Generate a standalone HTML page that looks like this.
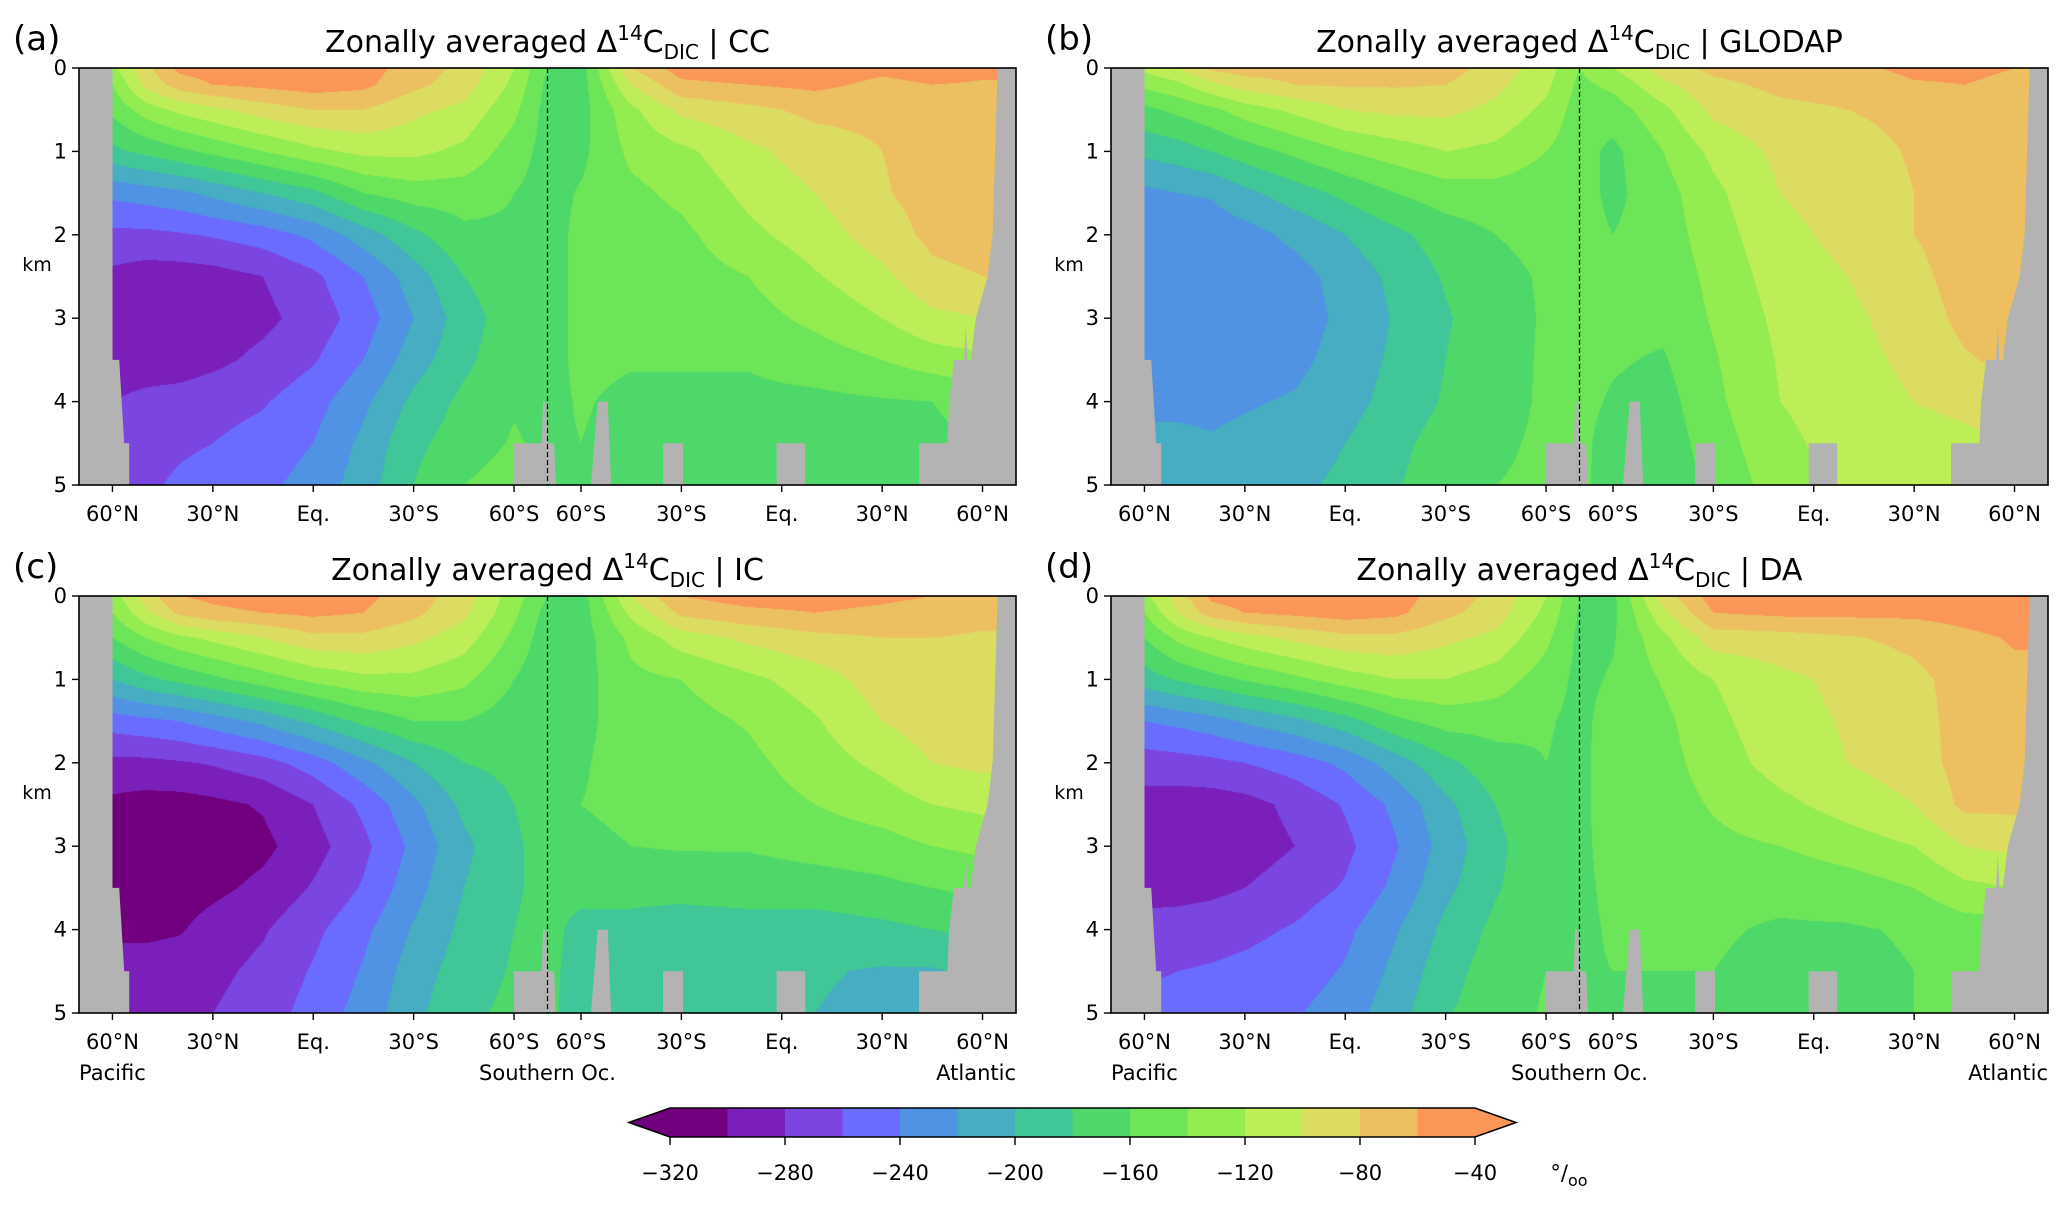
<!DOCTYPE html>
<html><head><meta charset="utf-8">
<style>
html,body{margin:0;padding:0;background:#fff;}
#wrap{position:relative;width:2067px;height:1208px;overflow:hidden;background:#fff;font-family:"DejaVu Sans","Liberation Sans",sans-serif;}
canvas{position:absolute;}
svg{position:absolute;left:0;top:0;}
</style></head>
<body>
<div id="wrap">
<canvas id="cv-a"></canvas>
<canvas id="cv-b"></canvas>
<canvas id="cv-c"></canvas>
<canvas id="cv-d"></canvas>
<svg id="ov" width="2067" height="1208" xmlns="http://www.w3.org/2000/svg"></svg>
</div>
<script>
// ---- data ----
const binEdges=[-320,-300,-280,-260,-240,-220,-200,-180,-160,-140,-120,-100,-80,-60,-40];
const binColors=["#71007f","#7b1fbb","#7a45e0","#6a6cff","#5093e4","#46adc2","#41c697","#4fd86a","#6ce558","#93ec50","#bdee58","#dcdc62","#ecc060","#f99658"];
const lowColor="#71007f", highColor="#f99658";
const cbTickLabels=["\u2212320","\u2212280","\u2212240","\u2212200","\u2212160","\u2212120","\u221280","\u221240"];
const cbTickValues=[-320,-280,-240,-200,-160,-120,-80,-40];
const depthRows=[0,0.2,0.5,1,1.5,2,2.5,3,3.5,4,4.5,5];
const sectionCols=[10,20,30,40,55,70,85,100,115,130,140,150,165,180,200,220,240,255,270];
const xTickPos=[10,40,70,100,130,150,180,210,240,270];
const xTickLabels=["60°N","30°N","Eq.","30°S","60°S","60°S","30°S","Eq.","30°N","60°N"];
const yTickVals=[0,1,2,3,4,5];
const fieldCC=[
[-125,-140,-155,-185,-235,-265,-285,-290,-290,-280,-270,-265],
[-85,-95,-130,-175,-230,-265,-290,-292,-290,-275,-265,-262],
[-55,-70,-115,-165,-225,-262,-290,-293,-290,-272,-262,-258],
[-50,-60,-105,-155,-215,-258,-288,-292,-285,-268,-260,-255],
[-45,-55,-90,-140,-200,-250,-280,-285,-275,-262,-252,-245],
[-45,-50,-80,-125,-185,-235,-265,-272,-262,-248,-240,-232],
[-50,-55,-80,-115,-160,-210,-240,-250,-240,-225,-215,-210],
[-70,-75,-95,-115,-150,-185,-210,-220,-210,-195,-185,-180],
[-85,-90,-105,-125,-150,-165,-180,-190,-185,-175,-170,-160],
[-120,-125,-135,-150,-160,-163,-165,-168,-165,-162,-158,-150],
[-160,-165,-168,-168,-168,-168,-168,-168,-168,-166,-164,-160],
[-170,-170,-168,-165,-158,-155,-155,-155,-155,-158,-160,-162],
[-80,-100,-125,-135,-145,-150,-152,-155,-158,-165,-168,-168],
[-50,-65,-95,-125,-135,-145,-150,-153,-158,-165,-168,-168],
[-45,-60,-85,-105,-115,-125,-140,-148,-158,-165,-168,-168],
[-45,-55,-75,-90,-100,-110,-122,-135,-150,-165,-168,-168],
[-55,-65,-75,-80,-82,-90,-105,-120,-140,-162,-165,-165],
[-50,-60,-70,-72,-72,-75,-85,-105,-130,-160,-165,-165],
[-55,-62,-70,-70,-72,-72,-80,-100,-125,-150,-160,-160]];
const fieldGLODAP=[
[-115,-135,-165,-195,-225,-225,-228,-230,-228,-225,-215,-210],
[-100,-125,-155,-190,-220,-232,-230,-228,-232,-225,-215,-212],
[-75,-105,-145,-180,-218,-232,-235,-235,-232,-225,-218,-212],
[-70,-90,-130,-170,-205,-228,-232,-235,-230,-222,-215,-210],
[-70,-80,-115,-155,-190,-215,-228,-230,-225,-218,-212,-205],
[-70,-78,-100,-140,-175,-200,-212,-215,-212,-208,-200,-195],
[-70,-78,-95,-130,-160,-185,-195,-198,-196,-192,-185,-182],
[-70,-80,-95,-120,-150,-170,-178,-182,-180,-178,-172,-168],
[-90,-95,-105,-125,-148,-160,-165,-168,-166,-165,-162,-160],
[-110,-115,-125,-140,-152,-155,-158,-158,-158,-158,-158,-158],
[-140,-145,-150,-152,-152,-152,-152,-152,-155,-155,-155,-155],
[-120,-135,-150,-165,-165,-160,-155,-155,-158,-162,-168,-170],
[-90,-105,-125,-140,-148,-150,-152,-155,-162,-168,-172,-175],
[-75,-85,-95,-115,-125,-130,-135,-138,-142,-145,-150,-155],
[-70,-75,-85,-95,-100,-105,-110,-115,-118,-120,-125,-130],
[-65,-72,-80,-88,-92,-95,-100,-105,-108,-110,-112,-115],
[-55,-62,-75,-78,-80,-80,-85,-90,-95,-100,-108,-112],
[-55,-60,-70,-72,-72,-72,-72,-75,-82,-95,-105,-110],
[-60,-65,-70,-70,-70,-70,-70,-72,-75,-85,-100,-105]];
const fieldIC=[
[-130,-140,-160,-200,-250,-285,-305,-312,-312,-305,-290,-285],
[-90,-105,-140,-185,-245,-285,-308,-315,-312,-305,-290,-285],
[-60,-75,-125,-175,-240,-282,-308,-315,-310,-302,-288,-282],
[-55,-65,-115,-165,-230,-278,-305,-312,-305,-292,-285,-280],
[-50,-60,-100,-150,-215,-268,-298,-305,-295,-282,-275,-270],
[-50,-55,-85,-135,-195,-250,-280,-288,-278,-265,-258,-252],
[-55,-60,-85,-125,-175,-225,-255,-265,-258,-245,-238,-232],
[-70,-75,-95,-125,-160,-200,-225,-235,-228,-218,-210,-205],
[-90,-95,-110,-135,-160,-180,-195,-205,-200,-195,-190,-185],
[-130,-135,-145,-160,-170,-175,-180,-182,-182,-180,-178,-175],
[-160,-168,-172,-175,-175,-175,-175,-175,-175,-175,-175,-175],
[-170,-170,-170,-168,-165,-162,-160,-165,-175,-185,-188,-190],
[-100,-115,-135,-145,-150,-152,-155,-160,-175,-185,-188,-190],
[-60,-75,-110,-140,-148,-150,-152,-158,-175,-188,-192,-192],
[-50,-65,-95,-125,-138,-145,-150,-158,-172,-188,-195,-195],
[-50,-60,-85,-110,-122,-130,-140,-152,-170,-190,-198,-200],
[-55,-65,-80,-90,-100,-115,-130,-148,-165,-185,-202,-205],
[-60,-70,-80,-85,-90,-100,-120,-140,-160,-180,-202,-205],
[-65,-75,-82,-85,-88,-95,-115,-135,-155,-175,-195,-200]];
const fieldDA=[
[-125,-140,-160,-190,-240,-270,-288,-292,-288,-272,-262,-255],
[-90,-100,-135,-178,-235,-268,-290,-293,-288,-270,-260,-255],
[-55,-70,-120,-168,-228,-265,-290,-293,-285,-268,-258,-252],
[-50,-60,-108,-158,-218,-260,-287,-290,-280,-265,-255,-250],
[-45,-55,-95,-145,-205,-250,-275,-280,-270,-258,-250,-242],
[-45,-50,-85,-130,-188,-235,-258,-265,-258,-245,-238,-230],
[-50,-55,-85,-120,-165,-210,-235,-242,-235,-222,-215,-208],
[-70,-75,-95,-120,-152,-185,-205,-212,-205,-195,-188,-182],
[-85,-90,-105,-130,-152,-168,-180,-185,-182,-175,-170,-168],
[-120,-125,-135,-150,-158,-160,-162,-165,-165,-162,-160,-158],
[-160,-162,-165,-165,-165,-165,-165,-165,-165,-164,-162,-160],
[-165,-165,-162,-158,-152,-150,-150,-152,-155,-158,-160,-162],
[-90,-105,-125,-138,-145,-148,-150,-152,-158,-158,-160,-162],
[-50,-60,-90,-120,-125,-130,-138,-145,-155,-158,-160,-162],
[-45,-55,-88,-105,-108,-112,-125,-140,-155,-162,-165,-165],
[-45,-55,-82,-95,-98,-100,-112,-130,-150,-162,-165,-165],
[-45,-55,-75,-85,-88,-90,-100,-120,-140,-158,-160,-160],
[-45,-52,-65,-72,-72,-72,-75,-100,-125,-150,-158,-158],
[-42,-48,-58,-65,-70,-70,-75,-95,-120,-150,-155,-155]];
const bathyS=[0,10,10,12,13.5,15,15,130,130,138.3,138.7,139.6,140,142,142.5,153,155,158,159,174.5,174.5,180.5,180.5,208.5,208.5,217,217,251,251,259.5,260,261.5,264.5,265,265.5,266.5,268,271.5,273,274.5,280,280,0];
const bathyD=[0,0,3.5,3.5,4.5,4.5,5,5,4.5,4.5,4.0,4.0,4.5,4.5,5,5,4,4,5,5,4.5,4.5,5,5,4.5,4.5,5,5,4.5,4.5,4.0,3.5,3.5,3.1,3.5,3.5,3.0,2.5,2.0,0,0,5,5];

const panels=[
 {id:"a",name:"CC",field:fieldCC,left:79,top:68,region:false},
 {id:"b",name:"GLODAP",field:fieldGLODAP,left:1111,top:68,region:false},
 {id:"c",name:"IC",field:fieldIC,left:79,top:596,region:true},
 {id:"d",name:"DA",field:fieldDA,left:1111,top:596,region:true}];
const W=937,H=417,SMAX=280,DMAX=5;

function colorFor(v){
  if(v<binEdges[0]) return lowColor;
  if(v>=binEdges[binEdges.length-1]) return highColor;
  let k=Math.floor((v-binEdges[0])/20);
  return binColors[Math.max(0,Math.min(13,k))];
}
function hex(c){return [parseInt(c.substr(1,2),16),parseInt(c.substr(3,2),16),parseInt(c.substr(5,2),16)];}
function findIdx(arr,v){
  if(v<=arr[0]) return [0,0];
  if(v>=arr[arr.length-1]) return [arr.length-2,1];
  for(let i=0;i<arr.length-1;i++){ if(v>=arr[i]&&v<=arr[i+1]) return [i,(v-arr[i])/(arr[i+1]-arr[i])]; }
  return [0,0];
}
function valAt(field,s,d){
  const [i,fx]=findIdx(sectionCols,s);
  const [j,fy]=findIdx(depthRows,d);
  const a=field[i][j],b=field[i+1][j],c=field[i][j+1],e=field[i+1][j+1];
  return (a*(1-fx)+b*fx)*(1-fy)+(c*(1-fx)+e*fx)*fy;
}
const ov=document.getElementById('ov');
const NS="http://www.w3.org/2000/svg";
function mk(tag,attrs,parent){const el=document.createElementNS(NS,tag);for(const k in attrs)el.setAttribute(k,attrs[k]);(parent||ov).appendChild(el);return el;}

panels.forEach(p=>{
  const xS=s=>p.left+s/SMAX*W;
  const yD=d=>p.top+d/DMAX*H;
  const cv=document.getElementById('cv-'+p.id);
  cv.width=W;cv.height=H;cv.style.left=p.left+'px';cv.style.top=p.top+'px';
  const ctx=cv.getContext('2d');
  const img=ctx.createImageData(W,H);
  const cache={};
  for(let py=0;py<H;py++){
    const d=(py+0.5)/H*DMAX;
    for(let px=0;px<W;px++){
      const s=(px+0.5)/W*SMAX;
      const col=colorFor(valAt(p.field,s,d));
      const rgb=cache[col]||(cache[col]=hex(col));
      const o=(py*W+px)*4;
      img.data[o]=rgb[0];img.data[o+1]=rgb[1];img.data[o+2]=rgb[2];img.data[o+3]=255;
    }
  }
  ctx.putImageData(img,0,0);
  const g=mk('g',{});
  
  
  let pts=bathyS.map((s,i)=>xS(s).toFixed(1)+','+yD(bathyD[i]).toFixed(1)).join(' ');
  const land=mk('polygon',{points:pts,fill:'#b3b3b3'},g);
  
  
  const dl=mk('line',{x1:xS(140),x2:xS(140),y1:p.top,y2:p.top+H,stroke:'#000','stroke-width':1.3,'stroke-dasharray':'5,3'},g);
  
  
  const fr=mk('rect',{x:p.left,y:p.top,width:W,height:H,fill:'none',stroke:'#000','stroke-width':1.6},g);
  
  
  yTickVals.forEach(v=>{
    mk('line',{x1:p.left-7,x2:p.left,y1:yD(v),y2:yD(v),stroke:'#000','stroke-width':1.4},g);
    const t=mk('text',{x:p.left-12,y:yD(v)+7,'text-anchor':'end','font-size':21,fill:'#000'},g);
    t.textContent=v;
    
    
  });
  const km=mk('text',{x:p.left-42,y:p.top+203,'text-anchor':'middle','font-size':19,fill:'#000'},g);
  km.textContent='km';
  
  
  xTickPos.forEach((s,i)=>{
    mk('line',{x1:xS(s),x2:xS(s),y1:p.top+H,y2:p.top+H+7,stroke:'#000','stroke-width':1.4},g);
    const t=mk('text',{x:xS(s),y:p.top+H+36,'text-anchor':'middle','font-size':21,fill:'#000'},g);
    t.textContent=xTickLabels[i];
    
    
  });
  if(p.region){
    [['Pacific',p.left,'start'],['Southern Oc.',xS(140),'middle'],['Atlantic',p.left+W,'end']].forEach(r=>{
      const t=mk('text',{x:r[1],y:p.top+H+67,'text-anchor':r[2],'font-size':21,fill:'#000'},g);
      t.textContent=r[0];
      
      
    });
  }
  const tt=mk('text',{x:p.left+W/2,y:p.top-16,'text-anchor':'middle','font-size':30,fill:'#000'},g);
  
  
  tt.innerHTML='Zonally averaged Δ<tspan dy="-12" font-size="20">14</tspan><tspan dy="12">C</tspan><tspan dy="7" font-size="20">DIC</tspan><tspan dy="-7"> | '+p.name+'</tspan>';
  const lb=mk('text',{x:p.left-66,y:p.top-18,'font-size':34,fill:'#000'},g);
  lb.textContent='('+p.id+')';
  
  
});

(function(){
  const cbL=670,cbR=1475,cbT=1108,cbB=1137,tipL=629,tipR=1516;
  const g=mk('g',{});
  
  
  const cbX=v=>cbL+(v-binEdges[0])/(binEdges[binEdges.length-1]-binEdges[0])*(cbR-cbL);
  const mid=(cbT+cbB)/2;
  mk('polygon',{points:`${tipL},${mid} ${cbL},${cbT} ${cbL},${cbB}`,fill:lowColor},g);
  mk('polygon',{points:`${tipR},${mid} ${cbR},${cbT} ${cbR},${cbB}`,fill:highColor},g);
  for(let k=0;k<binColors.length;k++){
    const r=mk('rect',{x:cbX(binEdges[k]),y:cbT,width:cbX(binEdges[k+1])-cbX(binEdges[k])+0.5,height:cbB-cbT,fill:binColors[k]},g);
    
    
  }
  mk('polygon',{points:`${tipL},${mid} ${cbL},${cbT} ${cbR},${cbT} ${tipR},${mid} ${cbR},${cbB} ${cbL},${cbB}`,fill:'none',stroke:'#000','stroke-width':1.6},g);
  cbTickValues.forEach((v,i)=>{
    mk('line',{x1:cbX(v),x2:cbX(v),y1:cbB,y2:cbB+8,stroke:'#000','stroke-width':1.4},g);
    const t=mk('text',{x:cbX(v),y:1180,'text-anchor':'middle','font-size':21,fill:'#000'},g);
    t.textContent=cbTickLabels[i];
    
    
  });
  const u=mk('text',{x:1569,y:1180,'text-anchor':'middle','font-size':21,fill:'#000'},g);
  u.innerHTML='°/<tspan dy="6" font-size="16">oo</tspan>';
  
  
})();
</script>
</body></html>
